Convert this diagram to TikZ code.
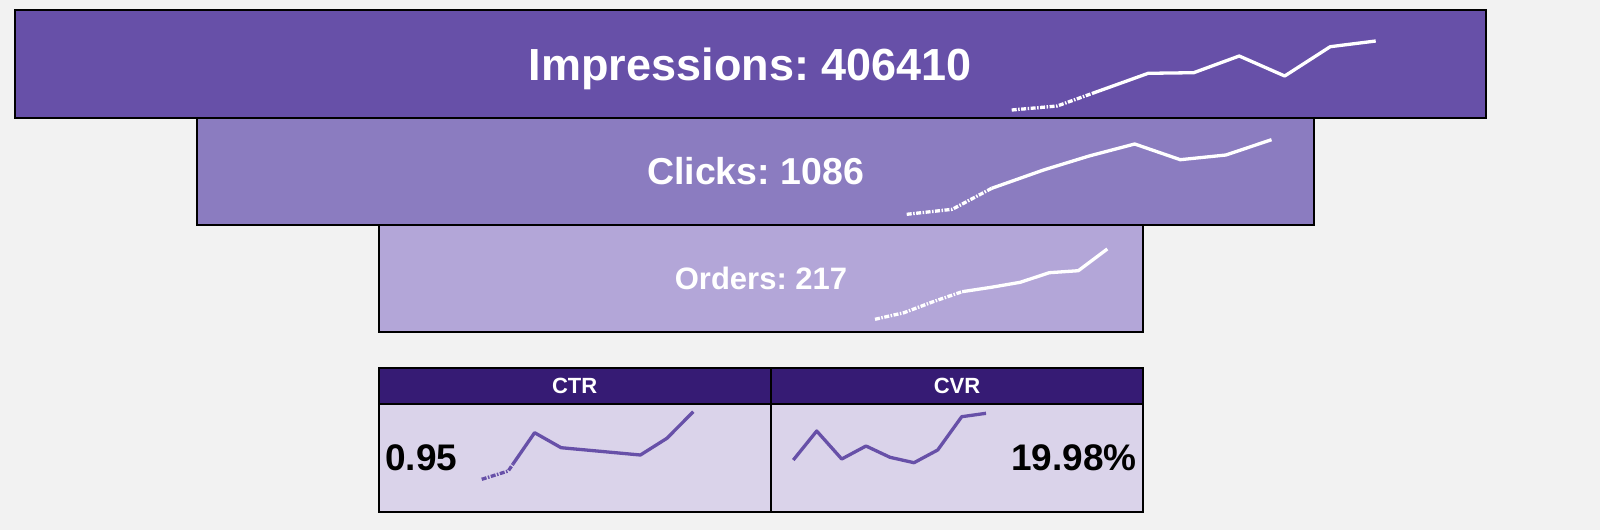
\documentclass[tikz,border=0pt]{standalone}
\usepackage{fontspec}
\setmainfont{Liberation Sans}
\usetikzlibrary{positioning}

\definecolor{pagebg}{HTML}{F2F2F2}
\definecolor{impfill}{HTML}{6750A8}
\definecolor{clickfill}{HTML}{8B7CC0}
\definecolor{orderfill}{HTML}{B3A6D8}
\definecolor{headfill}{HTML}{361B74}
\definecolor{cellfill}{HTML}{DAD3EA}

\newcommand{\bigfont}[1]{\fontsize{#1}{#1}\selectfont\bfseries\frenchspacing}

\begin{document}
\begin{tikzpicture}[x=1pt,y=-1pt,
stage/.style={draw=black,line width=1.9pt,anchor=north west,inner sep=0pt,outer sep=0pt,text=white,text depth=0pt},
headcell/.style={draw=black,line width=1.9pt,fill=headfill,text=white,inner sep=0pt,outer sep=0pt,
  minimum height=35.7pt,text depth=0pt,font=\bigfont{22}},
bodycell/.style={draw=black,line width=1.9pt,fill=cellfill,inner sep=0pt,outer sep=0pt,minimum height=107.7pt},
value/.style={inner sep=0pt,text depth=0pt,font=\bigfont{37}},
spark/.style={line width=3.3pt,line join=round},
sparkfade/.style={spark,dash pattern=on 5pt off 1.5pt on 1.5pt off 1.5pt}]

% page
\fill[pagebg] (0,0) rectangle (1600,530);
\useasboundingbox (0,0) rectangle (1600,530);

% funnel
\node[stage,fill=impfill,minimum width=1471.3pt,minimum height=107.4pt,font=\bigfont{45}] (imp) at (14.7,10.3) {Impressions: 406410};
\node[stage,fill=clickfill,minimum width=1117pt,minimum height=107.3pt,font=\bigfont{37.5}] (clicks) at (197,117.7) {Clicks: 1086};
\node[stage,fill=orderfill,minimum width=764.6pt,minimum height=107.3pt,font=\bigfont{31}] (orders) at (378.7,225) {Orders: 217};

% sparklines in the funnel
\draw[sparkfade,white] (1011.7,110) -- (1057.2,106) -- (1092,93.5);
\draw[spark,white] (1092,93.5) -- (1148.2,73.3) -- (1193.7,72.7) -- (1239.2,56) -- (1284.7,76) -- (1330.2,46.7) -- (1375.7,41);
\draw[sparkfade,white] (906.7,214.3) -- (952.3,209.3) -- (991.7,188.3);
\draw[spark,white] (991.7,188.3) -- (1043.5,170) -- (1089.1,156) -- (1134.7,144) -- (1180.3,159.7) -- (1225.9,155) -- (1271.5,139.7);
\draw[sparkfade,white] (875,319.3) -- (904,312.7) -- (933.1,301.7) -- (962.1,291.7);
\draw[spark,white] (962.1,291.7) -- (991.2,287.3) -- (1020.2,282.3) -- (1049.3,272.7) -- (1078.3,270.7) -- (1107.3,249);

% rate table
\node[headcell,anchor=north west,minimum width=392pt] (ctrhead) at (378.7,368.3) {CTR};
\node[headcell,minimum width=372.6pt,right=0pt of ctrhead] (cvrhead) {CVR};
\node[bodycell,minimum width=392pt,below=0pt of ctrhead] (ctrbody) {};
\node[bodycell,minimum width=372.6pt,below=0pt of cvrhead] (cvrbody) {};
\node[value,anchor=west] (ctrval) at ([xshift=6.5pt]ctrbody.west) {0.95};
\node[value,anchor=east] (cvrval) at ([xshift=-6.5pt]cvrbody.east) {19.98\%};

% sparklines in the table
\draw[sparkfade,impfill] (481.7,479.3) -- (508.2,471) -- (513,464);
\draw[spark,impfill] (513,464) -- (534.6,432.7) -- (561.1,447.7) -- (640.4,455) -- (666.9,438.3) -- (693.3,411.7);
\draw[spark,impfill] (793.3,460) -- (816.7,431) -- (841.7,459) -- (866,446) -- (890,457.3) -- (914,462.7) -- (937.7,450) -- (961.7,416.7) -- (986,413.3);
\end{tikzpicture}
\end{document}
